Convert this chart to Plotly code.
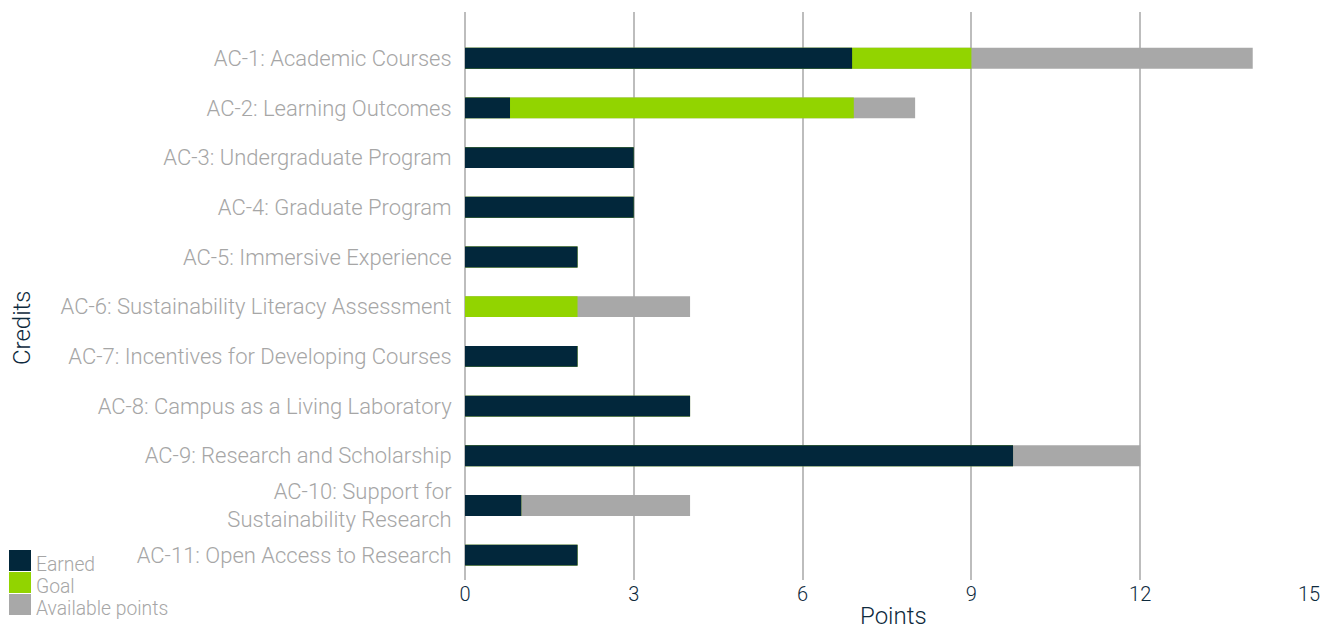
import plotly.graph_objects as go

# Credits and point values
credits = [
    "AC-1: Academic Courses",
    "AC-2: Learning Outcomes",
    "AC-3: Undergraduate Program",
    "AC-4: Graduate Program",
    "AC-5: Immersive Experience",
    "AC-6: Sustainability Literacy Assessment",
    "AC-7: Incentives for Developing Courses",
    "AC-8: Campus as a Living Laboratory",
    "AC-9: Research and Scholarship",
    "AC-10: Support for<br>Sustainability Research",
    "AC-11: Open Access to Research",
]
earned = [6.88, 0.8, 3, 3, 2, 0, 2, 4, 9.74, 1, 2]
goal = [9, 6.91, 3, 3, 2, 2, 2, 4, 9.74, 1, 2]
available = [14, 8, 3, 3, 2, 4, 2, 4, 12, 4, 2]

series_names = ["Earned", "Goal", "Available points"]
series_colors = ["#02273b", "#92d400", "#a8a8a8"]

NAVY = "#0e2a3d"
LABEL_GRAY = "#a6a6a6"
FONT = "Roboto"

fig = go.Figure()

# Overlaid bars: widest (available) first, earned on top
for vals, name, color in [
    (available, series_names[2], series_colors[2]),
    (goal, series_names[1], series_colors[1]),
    (earned, series_names[0], series_colors[0]),
]:
    fig.add_trace(go.Bar(
        x=vals,
        y=credits,
        orientation="h",
        name=name,
        marker=dict(color=color, line=dict(width=0)),
        width=0.42,
        showlegend=False,
        hovertemplate="%{y}: %{x}<extra>" + name + "</extra>",
    ))

# Custom legend at bottom-left (boxes + labels); plot area spans 844 x 568 px
box_h = 22
for i, (name, color) in enumerate(zip(series_names, series_colors)):
    y_top = 550 + i * box_h
    fig.add_shape(
        type="rect", xref="paper", yref="paper",
        x0=(9 - 465) / 844, x1=(31 - 465) / 844,
        y0=(580 - y_top) / 568, y1=(580 - y_top - box_h + 1) / 568,
        fillcolor=color, line=dict(width=0),
    )
    fig.add_annotation(
        xref="paper", yref="paper",
        x=(34 - 465) / 844, y=(580 - y_top - box_h / 2 - 3) / 568,
        xanchor="left", yanchor="middle",
        text=name, showarrow=False,
        font=dict(family=FONT, size=19.3, color=LABEL_GRAY, weight=300),
    )

# axis titles as annotations for exact placement
fig.add_annotation(
    xref="paper", yref="paper", x=(893 - 465) / 844, y=(580 - 616) / 568,
    text="Points", showarrow=False, xanchor="center", yanchor="middle",
    font=dict(family=FONT, size=24, color=NAVY, weight=300),
)
fig.add_annotation(
    xref="paper", yref="paper", x=(22 - 465) / 844, y=(580 - 328) / 568,
    text="Credits", showarrow=False, textangle=-90, xanchor="center", yanchor="middle",
    font=dict(family=FONT, size=24, color=NAVY, weight=300),
)

# page body has an 8px margin, so the figure is sized/offset to compensate
fig.update_layout(
    barmode="overlay",
    width=1322,
    height=623,
    plot_bgcolor="white",
    paper_bgcolor="white",
    margin=dict(l=457, r=21, t=4, b=51),
    font=dict(family=FONT),
    showlegend=False,
)

fig.update_xaxes(
    range=[0, 15],
    tickvals=[0, 3, 6, 9, 12, 15],
    automargin=False,
    showgrid=True,
    gridcolor="#bdbdbd",
    gridwidth=1.5,
    zeroline=True,
    zerolinecolor="#bdbdbd",
    zerolinewidth=1.5,
    tickfont=dict(family=FONT, size=20, color=NAVY, weight=300),
    ticks="",
)

fig.update_yaxes(
    range=[10.5, -0.93],
    automargin=False,
    categoryorder="array",
    categoryarray=credits,
    showgrid=False,
    tickfont=dict(family=FONT, size=22, color=LABEL_GRAY, weight=300),
    ticks="outside",
    ticklen=8,
    tickcolor="rgba(0,0,0,0)",
)

fig.write_html("out.html")
